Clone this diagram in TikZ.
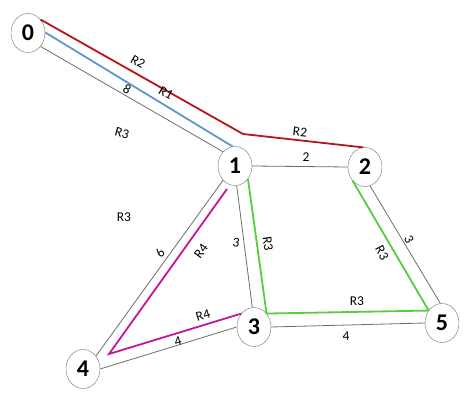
\documentclass[tikz,border=0pt]{standalone}
\usepackage{fontspec}
\setmainfont{Carlito}
\usetikzlibrary{shapes.geometric}
\definecolor{rtred}{RGB}{185,20,25}
\definecolor{rtblue}{RGB}{95,150,205}
\definecolor{rtgreen}{RGB}{85,205,60}
\definecolor{rtmag}{RGB}{200,20,150}
\begin{document}
\begin{tikzpicture}[x=1pt,y=-1pt,
        station/.style={draw=gray!90!black, ellipse, fill=white, minimum width=34pt,
            minimum height=39pt, inner sep=0pt, font=\fontsize{24}{24}\selectfont\bfseries},
        pipe/.style={draw=gray!85!black, line width=0.8pt},
        route/.style={line width=1.8pt},
        lbl/.style={font=\fontsize{13.5}{14}\selectfont, inner sep=0pt}]
        \useasboundingbox (0,0) rectangle (474,406);
        \node [station] (n0) at (28,33)   {0};
        \node [station] (n1) at (235,166) {1};
        \node [station] (n2) at (365,167) {2};
        \node [station] (n3) at (254,327) {3};
        \node [station] (n4) at (83,369)  {4};
        \node [station] (n5) at (442,323) {5};
        \coordinate (K) at (243,134);
        \coordinate (M) at (227,189);
        \coordinate (T) at (109,354);
        % pipes
        \draw [pipe] (n0.-47) -- (n1.130);
        \draw [pipe] (n1.0) -- (n2.180);
        \draw [pipe] (n1.-85) -- (n3.95);
        \draw [pipe] (n1.-130) -- (n4.45);
        \draw [pipe] (n2.-75) -- (n5.95);
        \draw [pipe] (n3.0) -- (n5.180);
        \draw [pipe] (n4.0) -- (n3.180);
        % routes
        \draw [route, rtred] (n0.47) -- (K) -- (n2.95);
        \draw [route, rtblue] (n0.2) -- (n1.97);
        \draw [route, rtgreen] (n1.-45) -- (n3.47) -- (n5.137);
        \draw [route, rtgreen] (n2.-133) -- (n5.137);
        \draw [route, rtmag] (M) -- (T) -- (n3.133);
        % labels
        \node [lbl, rotate=-29] (l02r) at (138,62)  {R2};
        \node [lbl, rotate=-30] (l01w) at (127,89)  {8};
        \node [lbl, rotate=-30] (l01r) at (166,93)  {R1};
        \node [lbl, rotate=-15] (lr3a) at (122,133) {R3};
        \node [lbl, rotate=-6]  (l12r) at (300,132) {R2};
        \node [lbl]             (l12w) at (306,157) {2};
        \node [lbl, rotate=-8]  (l13w) at (236,243) {3};
        \node [lbl, rotate=-82] (l13r) at (268,244) {R3};
        \node [lbl, rotate=-62] (l25r) at (382,253) {R3};
        \node [lbl, rotate=-62] (l25w) at (409,239) {3};
        \node [lbl]             (l35r) at (357,301) {R3};
        \node [lbl]             (l35w) at (346,336) {4};
        \node [lbl]             (lr3b) at (124,217) {R3};
        \node [lbl, rotate=54]  (l14w) at (160,253) {6};
        \node [lbl, rotate=54]  (l14r) at (201,251) {R4};
        \node [lbl, rotate=17]  (l43r) at (203,315) {R4};
        \node [lbl, rotate=17]  (l43w) at (178,341) {4};
    \end{tikzpicture}
\end{document}
